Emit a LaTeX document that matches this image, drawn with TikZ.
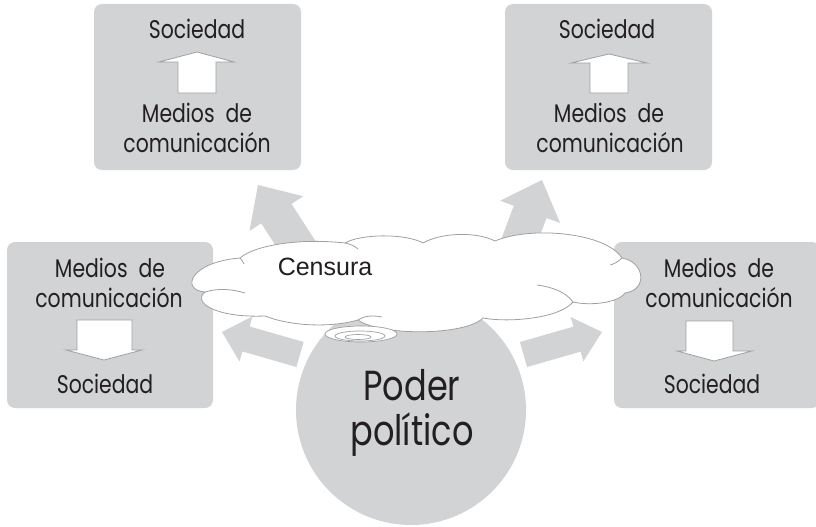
\documentclass[tikz,border=0pt]{standalone}
\usepackage{fontspec}
\setmainfont{Poppins}[FakeStretch=0.8]
\newfontfamily\censfont{Liberation Sans}
\usetikzlibrary{calc,shapes.geometric}
\definecolor{boxgray}{RGB}{209,211,212}
\definecolor{linegray}{RGB}{160,160,160}
\definecolor{ink}{RGB}{35,31,32}
\newcommand{\bigblockarrow}[6]{%
  \coordinate (#1-tail) at #2;
  \coordinate (#1-tip) at #3;
  \coordinate (#1-base) at ($(#1-tip)!#6!(#1-tail)$);
  \fill[bigarrow] ($(#1-tail)!#4!90:(#1-tip)$) -- ($(#1-base)!#4!-90:(#1-tail)$)
    -- ($(#1-base)!#5!-90:(#1-tail)$) -- (#1-tip) -- ($(#1-base)!#5!90:(#1-tail)$)
    -- ($(#1-base)!#4!90:(#1-tail)$) -- ($(#1-tail)!#4!-90:(#1-tip)$) -- cycle;
}
\begin{document}
\begin{tikzpicture}[x=1pt,y=-1pt,
  panel/.style={fill=boxgray, rounded corners=8pt, inner sep=0pt},
  lbl/.style={font=\fontsize{25.5}{30}\selectfont, text=ink, inner sep=0pt, anchor=base},
  biglbl/.style={font=\fontsize{42}{48}\selectfont, text=ink, inner sep=0pt, anchor=base},
  smallarrow/.style={fill=white, draw=linegray, line width=0.8pt, line join=miter},
  bigarrow/.style={fill=boxgray},
  cloudline/.style={draw=linegray, line width=0.8pt, fill=white},
  ring/.style={draw=linegray, line width=0.7pt, fill=white}]
\useasboundingbox (0,0) rectangle (816,527);

% panels
\node[panel, minimum width=207pt, minimum height=166pt] (tl) at (197.5,87) {};
\node[panel, minimum width=207pt, minimum height=166pt] (tr) at (608.5,87) {};
\node[panel, minimum width=206pt, minimum height=166pt] (lb) at (110,325) {};
\node[panel, minimum width=206pt, minimum height=166pt] (rb) at (717,325) {};

% big block arrows
\bigblockarrow{ul}{(312,269)}{(258,185)}{18pt}{32pt}{34pt}
\bigblockarrow{ur}{(507,274)}{(542,180)}{17.5pt}{32pt}{34pt}
\bigblockarrow{ll}{(300,354.5)}{(222,332)}{13pt}{23.5pt}{25pt}
\bigblockarrow{lr}{(523.5,354.5)}{(602,332)}{13pt}{23pt}{26pt}

% circle
\node[circle, fill=boxgray, minimum size=230pt, inner sep=0pt] (poder) at (411,410) {};

% cloud
\path[cloudline] (205,292)
  .. controls (180,290) and (190,262) .. (240,258)
  .. controls (255,245) and (300,238) .. (345,243)
  .. controls (360,234) and (405,233) .. (423,243)
  .. controls (440,233) and (475,231) .. (495,241)
  .. controls (530,226) and (605,232) .. (622,258)
  .. controls (645,262) and (648,290) .. (625,293)
  .. controls (618,303) and (590,306) .. (573,302)
  .. controls (560,318) and (510,323) .. (483,318)
  .. controls (465,336) and (380,336) .. (358,320)
  .. controls (330,328) and (290,326) .. (265,316)
  .. controls (215,318) and (192,302) .. (205,292) -- cycle;
\draw[draw=linegray, line width=0.8pt] (573,302) .. controls (566,292) and (552,287) .. (537,285);
\draw[draw=linegray, line width=0.8pt] (205,292) .. controls (218,288) and (232,289) .. (245,293);
\draw[draw=linegray, line width=0.8pt] (240,258) .. controls (242,260) and (243,262) .. (244,264);
\draw[draw=linegray, line width=0.8pt] (345,243) .. controls (350,244) and (355,246) .. (358,249);
\draw[draw=linegray, line width=0.8pt] (358,320) .. controls (364,316) and (372,315) .. (382,317);
\draw[draw=linegray, line width=0.8pt] (622,258) .. controls (618,262) and (614,264) .. (610,265);

% rings below the cloud
\node[ring, ellipse, minimum width=72pt, minimum height=16pt, inner sep=0pt] (ring1) at (361,334) {};
\node[ring, ellipse, minimum width=50pt, minimum height=10pt, inner sep=0pt] (ring2) at (360,336) {};
\node[ring, ellipse, minimum width=26pt, minimum height=5pt, inner sep=0pt] (ring3) at (358,337) {};

% small arrows in panels
\draw[smallarrow] (178,93) -- (178,62) -- (159,62) -- (197,52) -- (234,62) -- (216,62) -- (216,93) -- cycle;
\draw[smallarrow] (590,93) -- (590,63) -- (571,63) -- (609,54) -- (647,63) -- (628,63) -- (628,93) -- cycle;
\draw[smallarrow] (77,320) -- (77,350) -- (66,350) -- (104,360) -- (142,350) -- (132,350) -- (132,320) -- cycle;
\draw[smallarrow] (686,321) -- (686,351) -- (677,351) -- (714,361) -- (752,351) -- (733,351) -- (733,321) -- cycle;

% texts
\node[lbl] (tl1) at (197,38) {Sociedad};
\node[lbl] (tl2) at (197,122) {Medios\ \ de};
\node[lbl] (tl3) at (197,152) {comunicación};
\node[lbl] (tr1) at (607,38) {Sociedad};
\node[lbl] (tr2) at (609,122) {Medios\ \ de};
\node[lbl] (tr3) at (610,152) {comunicación};
\node[lbl] (lb1) at (110,277) {Medios\ \ de};
\node[lbl] (lb2) at (109,307) {comunicación};
\node[lbl] (lb3) at (105,393) {Sociedad};
\node[lbl] (rb1) at (719,277) {Medios\ \ de};
\node[lbl] (rb2) at (719,307) {comunicación};
\node[lbl] (rb3) at (712,393) {Sociedad};
\node[font=\censfont\fontsize{25}{30}\selectfont, text=ink, inner sep=0pt, anchor=base] (cens) at (325,275) {Censura};
\node[biglbl] (p1) at (412,400) {Poder};
\node[biglbl] (p2) at (412,445) {político};
\end{tikzpicture}
\end{document}
